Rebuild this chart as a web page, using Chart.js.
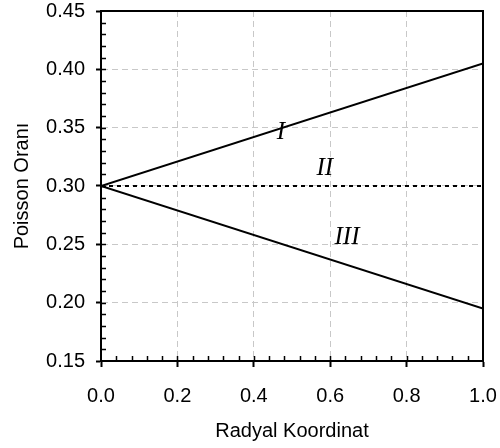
<!DOCTYPE html>
<html>
<head>
<meta charset="utf-8">
<script src="https://cdn.jsdelivr.net/npm/chart.js@4.4.0/dist/chart.umd.min.js"></script>
<style>
  html, body { margin: 0; padding: 0; background: #fff; }
  #wrap { width: 500px; height: 448px; }
</style>
</head>
<body>
<div id="wrap"><canvas id="poissonChart" width="500" height="448"></canvas></div>
<script>
// radial coordinate at the two ends of each line
const radial = [0, 1];
const curveI = [0.30, 0.405];
const curveII = [0.30, 0.30];
const curveIII = [0.30, 0.195];

// curve labels and where they sit (data coords)
const curveNames = ['I', 'II', 'III'];
const nameX = [0.471, 0.586, 0.644];
const nameY = [0.346, 0.315, 0.256];

function points(ys) {
    return radial.map(function(x, i) { return { x: x, y: ys[i] }; });
}

// minor ticks + box + curve names
const extras = {
    id: 'extras',
    afterDraw(chart) {
        const c = chart.ctx;
        const a = chart.chartArea;
        const xs = chart.scales.x;
        const ys = chart.scales.y;
        c.save();
        c.strokeStyle = '#000';
        c.lineWidth = 1.5;
        c.beginPath();
        for (let i = 1; i < 25; i++) {
            const px = Math.round(xs.getPixelForValue(i / 25)) + 0.5;
            c.moveTo(px, a.bottom);
            c.lineTo(px, a.bottom - 5);
        }
        for (let i = 1; i < 30; i++) {
            const py = Math.round(ys.getPixelForValue(0.15 + i / 100)) + 0.5;
            c.moveTo(a.left, py);
            c.lineTo(a.left + 5, py);
        }
        c.stroke();
        // box
        c.lineWidth = 2;
        c.strokeRect(a.left, a.top, a.right - a.left, a.bottom - a.top);
        // names
        c.fillStyle = '#000';
        c.font = 'italic 25px "Liberation Serif", "Times New Roman", serif';
        c.textAlign = 'center';
        c.textBaseline = 'middle';
        curveNames.forEach(function(n, i) {
            c.fillText(n, xs.getPixelForValue(nameX[i]), ys.getPixelForValue(nameY[i]));
        });
        c.restore();
    }
};

const lineStyle = {
    borderColor: '#000',
    borderWidth: 2,
    pointRadius: 0,
    showLine: true,
    fill: false
};

const axisFont = { family: '"Liberation Sans", Arial, sans-serif', size: 20 };

new Chart(document.getElementById('poissonChart'), {
    type: 'scatter',
    data: {
        datasets: [
            Object.assign({ label: 'I', data: points(curveI) }, lineStyle),
            Object.assign({ label: 'II', data: points(curveII), borderDash: [4, 4] }, lineStyle),
            Object.assign({ label: 'III', data: points(curveIII) }, lineStyle)
        ]
    },
    options: {
        responsive: false,
        animation: false,
        layout: { padding: { left: 0, top: 11, right: 17, bottom: 0 } },
        plugins: {
            legend: { display: false },
            tooltip: { enabled: false }
        },
        scales: {
            x: {
                type: 'linear',
                min: 0,
                max: 1,
                afterFit(s) {
                    s.height = 87;
                    s.paddingLeft = 0;
                    s.paddingRight = 0;
                },
                ticks: {
                    stepSize: 0.2,
                    color: '#000',
                    font: axisFont,
                    padding: 17,
                    maxRotation: 0,
                    callback: function(v) { return v.toFixed(1); }
                },
                grid: {
                    color: '#c8c8c8',
                    lineWidth: 1,
                    tickColor: '#000',
                    tickWidth: 2,
                    tickLength: 6,
                    tickBorderDash: []
                },
                border: { color: '#000', width: 2, dash: [6, 4] },
                title: {
                    display: true,
                    text: 'Radyal Koordinat',
                    color: '#000',
                    font: axisFont,
                    padding: { top: 0, bottom: 5 }
                }
            },
            y: {
                type: 'linear',
                min: 0.15,
                max: 0.45,
                afterFit(s) {
                    s.width = 101;
                    s.paddingTop = 0;
                    s.paddingBottom = 0;
                },
                ticks: {
                    stepSize: 0.05,
                    color: '#000',
                    font: axisFont,
                    padding: 11,
                    callback: function(v) { return v.toFixed(2); }
                },
                grid: {
                    color: '#c8c8c8',
                    lineWidth: 1,
                    tickColor: '#000',
                    tickWidth: 2,
                    tickLength: 5,
                    tickBorderDash: []
                },
                border: { color: '#000', width: 2, dash: [6, 4] },
                title: {
                    display: true,
                    text: 'Poisson Oranı',
                    color: '#000',
                    font: axisFont,
                    padding: { top: 10, bottom: 0 }
                }
            }
        }
    },
    plugins: [extras]
});
</script>
</body>
</html>
